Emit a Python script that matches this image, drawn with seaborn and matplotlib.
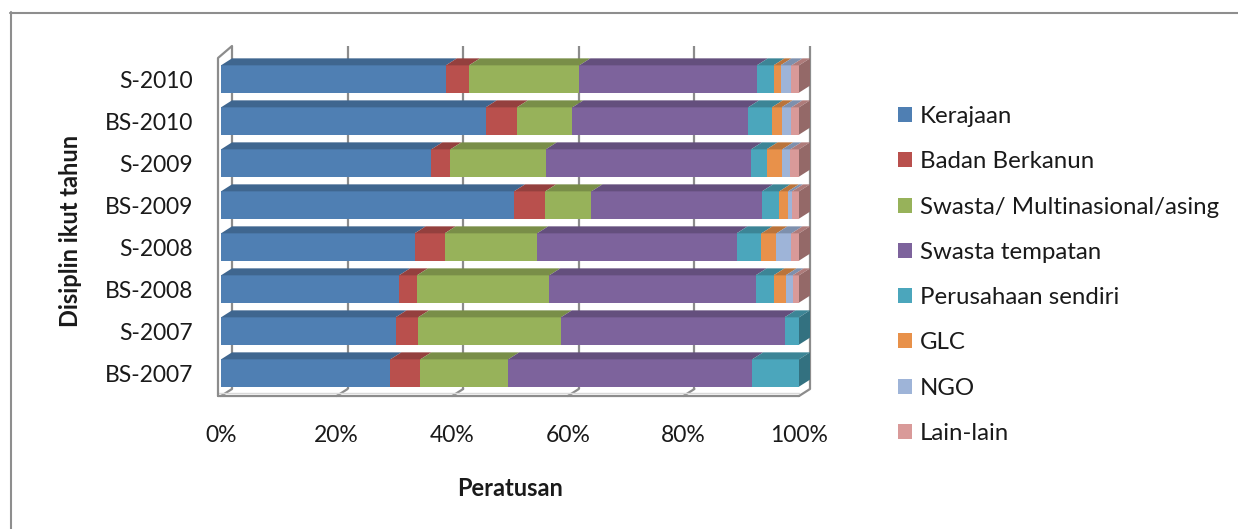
import numpy as np
import pandas as pd
import matplotlib
matplotlib.use("Agg")
import matplotlib.pyplot as plt
import seaborn as sns
from matplotlib.patches import Polygon, Patch
from matplotlib.lines import Line2D
from matplotlib.colors import to_rgb

# ---------------- data ----------------
categories = ["S-2010", "BS-2010", "S-2009", "BS-2009", "S-2008", "BS-2008", "S-2007", "BS-2007"]
kerajaan = [38.9, 45.8, 36.4, 50.7, 33.5, 30.8, 30.2, 29.3]
badan_berkanun = [4.0, 5.4, 3.3, 5.4, 5.2, 3.1, 3.9, 5.2]
swasta_multi = [19.1, 9.6, 16.5, 8.0, 16.0, 22.9, 24.7, 15.2]
swasta_tempatan = [30.7, 30.4, 35.5, 29.5, 34.5, 35.7, 38.7, 42.2]
perusahaan_sendiri = [2.9, 4.1, 2.7, 3.0, 4.3, 3.1, 2.5, 8.1]
glc = [1.2, 1.7, 2.7, 1.5, 2.6, 2.1, 0.0, 0.0]
ngo = [1.9, 1.7, 1.4, 0.7, 2.6, 1.2, 0.0, 0.0]
lain_lain = [1.3, 1.3, 1.5, 1.2, 1.3, 1.1, 0.0, 0.0]

series_names = ["Kerajaan", "Badan Berkanun", "Swasta/ Multinasional/asing",
                "Swasta tempatan", "Perusahaan sendiri", "GLC", "NGO", "Lain-lain"]
series_values = [kerajaan, badan_berkanun, swasta_multi, swasta_tempatan,
                 perusahaan_sendiri, glc, ngo, lain_lain]
colors = ["#4F7FB3", "#B9504D", "#97B25A", "#7D639C", "#4BA6BC", "#E8914A", "#9EB4D8", "#D99A99"]

xticks = [0, 20, 40, 60, 80, 100]
xtick_labels = ["0%", "20%", "40%", "60%", "80%", "100%"]
xlabel = "Peratusan"
ylabel = "Disiplin ikut tahun"

# ---------------- style ----------------
sns.set_theme(style="white")
plt.rcParams["font.family"] = ["Lato", "DejaVu Sans"]
TXT = "#1a1a1a"
GRID = "#8c8c8c"
FS_TICK = 16.5
FS_LAB = 17
FS_LEG = 17.3

W, H, DPI = 1238, 529, 100
fig = plt.figure(figsize=(W / DPI, H / DPI), dpi=DPI)

# pixel geometry of the plot
X0, X100 = 221, 799          # front face 0% / 100%
ROW0, STEP = 79, 42          # centre of first bar row and row spacing
AL, AR, AT, AB = 205, 830, 40, 400
ax = fig.add_axes([AL / W, 1 - AB / H, (AR - AL) / W, (AB - AT) / H])
sx = 100.0 / (X100 - X0)
sy = 1.0 / STEP
DX, DY = 11 * sx, 7 * sy
floor_front = (396 - ROW0) * sy
wall_top = (46 - ROW0) * sy

# ---------------- data frame ----------------
df = pd.DataFrame({"Tahun": categories})
for n, v in zip(series_names, series_values):
    df[n] = v
cum = df[series_names].cumsum(axis=1)
start = cum - df[series_names]

# ---------------- back wall / floor ----------------
for v in xticks:
    ax.plot([v + DX, v + DX], [floor_front - DY, wall_top], color=GRID, lw=1.6, zorder=0,
            solid_capstyle="butt")
    ax.plot([v, v + DX], [floor_front, floor_front - DY], color=GRID, lw=1.6, zorder=0)
ax.plot([-3 * sx, 100], [floor_front, floor_front], color=GRID, lw=1.6, zorder=0)
ax.plot([-3 * sx, 100], [floor_front - 3 * sy, floor_front - 3 * sy], color="#d9d9d9", lw=1.0, zorder=0)
# left wall
x_lw = -3 * sx
ax.plot([x_lw, x_lw, DX], [floor_front, (58 - ROW0) * sy, wall_top], color=GRID, lw=1.6, zorder=0)

# ---------------- bars (stacked via cumulative overlays) ----------------
BAR_W = 0.65
for k in reversed(range(len(series_names))):
    sns.barplot(x=cum[series_names[k]], y=df["Tahun"], order=categories, orient="h",
                color=colors[k], saturation=1, errorbar=None, width=BAR_W,
                linewidth=0, ax=ax, zorder=2)


def shade(c, f):
    r, g, b = to_rgb(c)
    return (r * f, g * f, b * f)


for i, cat in enumerate(categories):
    y_top = i - BAR_W / 2
    y_bot = i + BAR_W / 2
    last = None
    for k, n in enumerate(series_names):
        l, r = start.loc[i, n], cum.loc[i, n]
        if r - l <= 0:
            continue
        last = k
        ax.add_patch(Polygon([(l, y_top), (r, y_top), (r + DX, y_top - DY), (l + DX, y_top - DY)],
                             closed=True, facecolor=shade(colors[k], 0.8), edgecolor="none", zorder=3))
    R = cum.loc[i, series_names[-1]]
    ax.add_patch(Polygon([(R, y_top), (R + DX, y_top - DY), (R + DX, y_bot - DY), (R, y_bot)],
                         closed=True, facecolor=shade(colors[last], 0.68), edgecolor="none", zorder=3))

# ---------------- axes ----------------
ax.set_xlim((AL - X0) * sx, (AR - X0) * sx)
ax.set_ylim((AB - ROW0) * sy, (AT - ROW0) * sy)
for s in ax.spines.values():
    s.set_visible(False)
ax.grid(False)
ax.set_xticks(xticks)
ax.set_xticklabels(xtick_labels)
ax.tick_params(axis="x", length=0, pad=18, labelsize=FS_TICK, labelcolor=TXT)
ax.tick_params(axis="y", length=0, pad=8.5, labelsize=FS_TICK, labelcolor=TXT)
ax.set_xlabel("")
ax.set_ylabel("")
ax.patch.set_alpha(0)

fig.text(510 / W, 1 - 488 / H, xlabel, ha="center", va="center", fontsize=FS_LAB,
         fontweight="bold", color=TXT)
fig.text(70 / W, 1 - 231 / H, ylabel, ha="center", va="center", fontsize=FS_LAB,
         fontweight="bold", color=TXT, rotation=90)

# ---------------- legend ----------------
handles = [Patch(facecolor=c, edgecolor="none") for c in colors]
fig.legend(handles, series_names, loc="upper left", bbox_to_anchor=(898 / W, 1 - 106 / H),
           frameon=False, fontsize=FS_LEG, handlelength=0.58, handleheight=0.58,
           handletextpad=0.34, labelspacing=1.01, borderpad=0, borderaxespad=0,
           labelcolor=TXT)

# ---------------- outer frame ----------------
fig.add_artist(Line2D([10.5 / W, 10.5 / W], [0, 1 - 12 / H], color="#8e8e8e", lw=1.5,
                      transform=fig.transFigure))
fig.add_artist(Line2D([10 / W, 1], [1 - 12.5 / H, 1 - 12.5 / H], color="#8e8e8e", lw=1.5,
                      transform=fig.transFigure))

fig.savefig("out.png", dpi=DPI)
